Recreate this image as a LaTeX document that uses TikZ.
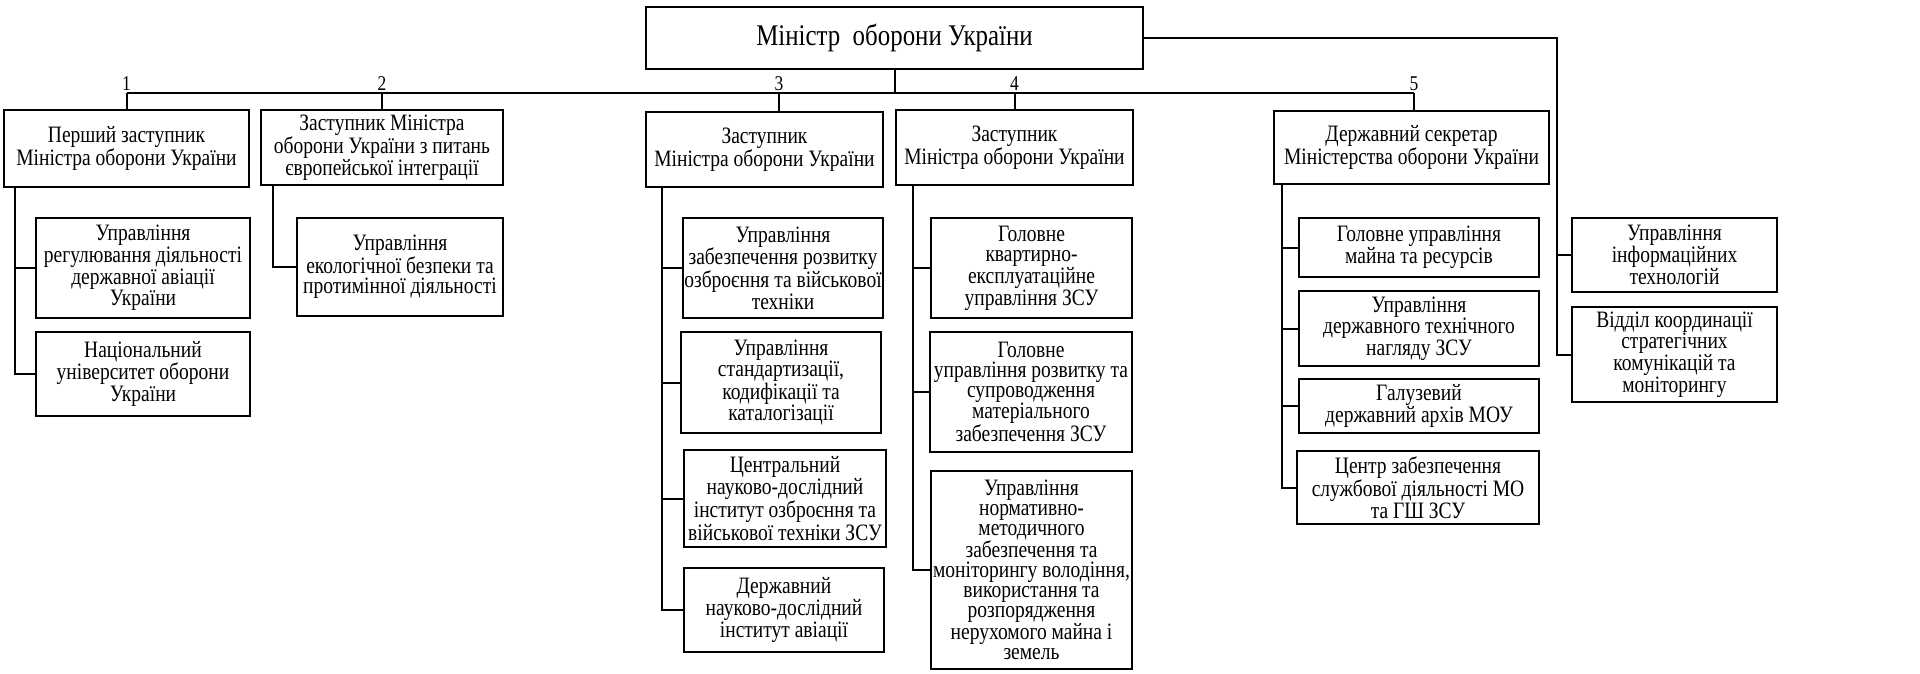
\documentclass[tikz,border=0pt]{standalone}
\usepackage{fontspec}
\setmainfont{Liberation Serif}[FakeStretch=0.83]
\newcommand\BX[6]{\node[box, minimum width={(#4)-(#2)}, minimum height={(#5)-(#3)}] (#1) at ({((#2)+(#4))/2},{((#3)+(#5))/2}) {#6};}
\begin{document}
\begin{tikzpicture}[x=1pt,y=-1pt,line width=2pt,
  box/.style={draw, line width=2pt, inner sep=0pt, align=center, font=\fontsize{23.5}{20}\selectfont},
  num/.style={font=\fontsize{21}{20}\selectfont, inner sep=1.5pt, anchor=south}]
\useasboundingbox (0,0) rectangle (1920,674);
% top
\node[box, font=\fontsize{30}{30}\selectfont, minimum width=497, minimum height=62] (top) at (894.5,38) {Міністр\ \ оборони України};
% level 2
\BX{b1}{4}{110}{249}{187}{Перший заступник\\Міністра оборони України}
\BX{b2}{261}{110}{503}{185}{Заступник Міністра\\оборони України з питань\\європейської інтеграції}
\BX{b3}{646}{112}{883}{187}{Заступник\\Міністра оборони України}
\BX{b4}{896}{110}{1133}{185}{Заступник\\Міністра оборони України}
\BX{b5}{1274}{111}{1549}{184}{Державний секретар\\Міністерства оборони України}
% children 1
\BX{c1a}{36}{218}{250}{318}{Управління\\регулювання діяльності\\державної авіації\\України}
\BX{c1b}{36}{332}{250}{416}{Національний\\університет оборони\\України}
% children 2
\BX{c2a}{297}{218}{503}{316}{Управління\\екологічної безпеки та\\протимінної діяльності}
% children 3
\BX{c3a}{683}{218}{883}{318}{Управління\\забезпечення розвитку\\озброєння та військової\\техніки}
\BX{c3b}{681}{332}{881}{433}{Управління\\стандартизації,\\кодифікації та\\каталогізації}
\BX{c3c}{684}{450}{886}{547}{Центральний\\науково-дослідний\\інститут озброєння та\\військової техніки ЗСУ}
\BX{c3d}{684}{568}{884}{652}{Державний\\науково-дослідний\\інститут авіації}
% children 4
\BX{c4a}{931}{218}{1132}{318}{Головне\\квартирно-\\експлуатаційне\\управління ЗСУ}
\BX{c4b}{930}{332}{1132}{452}{Головне\\управління розвитку та\\супроводження\\матеріального\\забезпечення ЗСУ}
\BX{c4c}{931}{471}{1132}{669}{Управління\\нормативно-\\методичного\\забезпечення та\\моніторингу володіння,\\використання та\\розпорядження\\нерухомого майна і\\земель}
% children 5
\BX{c5a}{1299}{218}{1539}{277}{Головне управління\\майна та ресурсів}
\BX{c5b}{1299}{291}{1539}{366}{Управління\\державного технічного\\нагляду ЗСУ}
\BX{c5c}{1299}{379}{1539}{433}{Галузевий\\державний архів МОУ}
\BX{c5d}{1297}{451}{1539}{524}{Центр забезпечення\\службової діяльності МО\\та ГШ ЗСУ}
% right column
\BX{r1}{1572}{218}{1777}{292}{Управління\\інформаційних\\технологій}
\BX{r2}{1572}{307}{1777}{402}{Відділ координації\\стратегічних\\комунікацій та\\моніторингу}
% bus
\coordinate (d1) at (126.5,93);
\coordinate (d2) at (382,93);
\coordinate (d3) at (779,93);
\coordinate (d4) at (1014.5,93);
\coordinate (d5) at (1414,93);
\draw (top.south) -- (top.south |- d1);
\draw (d1) -- (d5);
\draw (d1) -- (b1.north);
\draw (d2) -- (b2.north);
\draw (d3) -- (d3 |- b3.north);
\draw (d4) -- (b4.north);
\draw (d5) -- (d5 |- b5.north);
\node[num] (n1) at (d1) {1};
\node[num] (n2) at (d2) {2};
\node[num] (n3) at (d3) {3};
\node[num] (n4) at (d4) {4};
\node[num] (n5) at (d5) {5};
% spines
\coordinate (s1) at (15,0);
\coordinate (s2) at (273,0);
\coordinate (s3) at (662,0);
\coordinate (s4) at (913,0);
\coordinate (s5) at (1282,0);
\coordinate (sr) at (1557,0);
\draw (s1 |- b1.south) |- (c1b.west);
\draw (s1 |- c1a.west) -- (c1a.west);
\draw (s2 |- b2.south) |- (c2a.west);
\draw (s3 |- b3.south) |- (c3d.west);
\draw (s3 |- c3a.west) -- (c3a.west);
\draw (s3 |- c3b.west) -- (c3b.west);
\draw (s3 |- c3c.west) -- (c3c.west);
\draw (s4 |- b4.south) |- (c4c.west);
\draw (s4 |- c4a.west) -- (c4a.west);
\draw (s4 |- c4b.west) -- (c4b.west);
\draw (s5 |- b5.south) |- (c5d.west);
\draw (s5 |- c5a.west) -- (c5a.west);
\draw (s5 |- c5b.west) -- (c5b.west);
\draw (s5 |- c5c.west) -- (c5c.west);
\draw (top.east) -| (sr |- r2.west) -- (r2.west);
\draw (sr |- r1.west) -- (r1.west);
\end{tikzpicture}
\end{document}
